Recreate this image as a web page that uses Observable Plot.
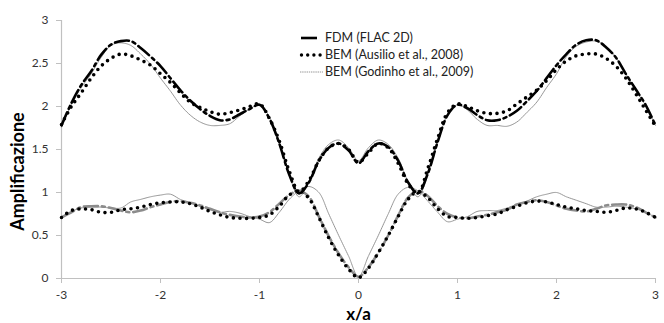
<!DOCTYPE html>
<html><head><meta charset="utf-8">
<script src="https://cdn.jsdelivr.net/npm/d3@7"></script>
<script src="https://cdn.jsdelivr.net/npm/@observablehq/plot@0.6"></script>
<style>
html,body{margin:0;padding:0;background:#fff;}
#wrap{position:relative;width:664px;height:323px;font-family:Lato,"Liberation Sans",sans-serif;}
#legend{position:absolute;left:299px;top:29px;font-size:12.5px;color:#222;line-height:17px;}
#legend div{display:flex;align-items:center;height:17px;}
#legend svg{margin-right:2px;}
</style></head>
<body><div id="wrap"><div id="legend"></div></div>
<script>
const xs = [-3.0,-2.9,-2.8,-2.7,-2.6,-2.5,-2.4,-2.3,-2.2,-2.1,-2.0,-1.9,-1.8,-1.7,-1.6,-1.5,-1.4,-1.3,-1.2,-1.1,-1.0,-0.9,-0.8,-0.7,-0.6,-0.5,-0.4,-0.3,-0.2,-0.1,0.0,0.1,0.2,0.3,0.4,0.5,0.6,0.7,0.8,0.9,1.0,1.1,1.2,1.3,1.4,1.5,1.6,1.7,1.8,1.9,2.0,2.1,2.2,2.3,2.4,2.5,2.6,2.7,2.8,2.9,3.0];

// Upper group (black)
const fdmH = [1.78,2.04,2.25,2.41,2.60,2.72,2.76,2.76,2.68,2.58,2.47,2.33,2.19,2.07,1.97,1.89,1.84,1.85,1.91,1.97,2.02,1.86,1.57,1.21,0.99,1.12,1.37,1.52,1.57,1.49,1.34,1.48,1.57,1.53,1.37,1.12,0.99,1.22,1.59,1.90,2.02,1.98,1.90,1.84,1.84,1.88,1.95,2.06,2.18,2.33,2.48,2.61,2.72,2.77,2.77,2.69,2.57,2.38,2.20,2.02,1.78];
const ausH = [1.79,2.00,2.16,2.33,2.47,2.56,2.61,2.59,2.54,2.48,2.38,2.28,2.16,2.05,1.99,1.94,1.91,1.93,1.96,2.00,2.03,1.86,1.60,1.25,1.01,1.14,1.37,1.52,1.57,1.50,1.35,1.46,1.57,1.52,1.34,1.10,0.99,1.28,1.63,1.93,2.03,2.00,1.95,1.92,1.92,1.95,2.03,2.11,2.19,2.30,2.43,2.53,2.59,2.61,2.61,2.56,2.47,2.33,2.15,1.96,1.77];
const godH = [1.76,2.02,2.22,2.38,2.57,2.71,2.74,2.71,2.61,2.49,2.33,2.18,2.02,1.90,1.82,1.78,1.78,1.80,1.89,1.97,2.02,1.88,1.56,1.20,0.95,1.13,1.40,1.56,1.61,1.52,1.37,1.52,1.61,1.56,1.40,1.13,0.95,1.20,1.58,1.90,2.02,1.96,1.85,1.78,1.78,1.77,1.82,1.93,2.05,2.22,2.38,2.58,2.70,2.75,2.76,2.70,2.57,2.38,2.19,2.01,1.78];

// Lower group
const fdmV = [0.71,0.77,0.83,0.84,0.84,0.82,0.79,0.77,0.79,0.83,0.86,0.89,0.90,0.88,0.85,0.81,0.77,0.74,0.72,0.71,0.72,0.77,0.87,0.97,1.02,0.95,0.72,0.49,0.29,0.13,0.02,0.13,0.30,0.50,0.73,0.94,1.02,0.96,0.84,0.75,0.71,0.70,0.72,0.74,0.77,0.80,0.86,0.89,0.91,0.89,0.85,0.81,0.79,0.78,0.81,0.85,0.86,0.86,0.83,0.77,0.71];
const ausV = [0.71,0.79,0.81,0.80,0.77,0.77,0.80,0.81,0.83,0.86,0.88,0.89,0.89,0.87,0.83,0.78,0.74,0.71,0.70,0.70,0.71,0.74,0.84,0.97,1.02,0.93,0.71,0.47,0.27,0.11,0.01,0.12,0.30,0.50,0.72,0.92,1.01,0.94,0.81,0.72,0.71,0.70,0.71,0.73,0.75,0.80,0.84,0.88,0.90,0.89,0.86,0.83,0.81,0.79,0.78,0.77,0.79,0.82,0.81,0.77,0.71];
const godV = [0.72,0.78,0.82,0.83,0.83,0.82,0.82,0.89,0.92,0.95,0.97,0.98,0.92,0.88,0.84,0.80,0.77,0.78,0.76,0.72,0.69,0.65,0.77,0.92,1.02,1.07,1.00,0.75,0.50,0.26,0.02,0.26,0.50,0.75,0.98,1.06,1.02,0.90,0.77,0.66,0.69,0.72,0.78,0.79,0.79,0.82,0.86,0.90,0.95,0.98,1.00,0.95,0.91,0.87,0.83,0.83,0.84,0.83,0.81,0.77,0.71];

const xTicks = [-3,-2,-1,0,1,2,3];
const yTicks = [0,0.5,1,1.5,2,2.5,3];
const legendLabels = ["FDM (FLAC 2D)","BEM (Ausilio et al., 2008)","BEM (Godinho et al., 2009)"];

const rows = arr => xs.map((x,i)=>({x, y: arr[i]}));

const ausStyle = {stroke: "#000", strokeWidth: 3.6, strokeDasharray: "0 6.6", strokeLinecap: "round"};
const godStyle = {stroke: "#8a8a8a", strokeWidth: 0.9, strokeDasharray: "1.4 0.8"};

const chart = Plot.plot({
  width: 664, height: 323,
  marginLeft: 61, marginRight: 9, marginTop: 20, marginBottom: 45,
  style: {fontFamily: "Lato, 'Liberation Sans', sans-serif", fontSize: "12px", color: "#333", background: "#fff"},
  x: {domain: [-3,3]},
  y: {domain: [0,3]},
  marks: [
    Plot.ruleX([-3], {stroke: "#c0c0c0", strokeWidth: 1.2}),
    Plot.ruleY([0], {stroke: "#c0c0c0", strokeWidth: 1.2}),
    Plot.axisX({ticks: xTicks, tickSize: 5, tickPadding: 7, stroke: "#c0c0c0", label: null, tickFormat: d=>String(d), fill: "#333"}),
    Plot.axisY({ticks: yTicks, tickSize: 5, tickPadding: 8, stroke: "#c0c0c0", label: null, tickFormat: d=>String(d), fill: "#333"}),
    Plot.line(rows(godV), {x:"x", y:"y", curve:"catmull-rom", ...godStyle}),
    Plot.line(rows(fdmV), {x:"x", y:"y", curve:"catmull-rom", stroke:"#8c8c8c", strokeWidth: 2.6, strokeDasharray: "14 4 3 4"}),
    Plot.line(rows(ausV), {x:"x", y:"y", curve:"catmull-rom", ...ausStyle}),
    Plot.line(rows(godH), {x:"x", y:"y", curve:"catmull-rom", ...godStyle}),
    Plot.line(rows(fdmH), {x:"x", y:"y", curve:"catmull-rom", stroke:"#000", strokeWidth: 2.6, strokeDasharray: "14 4 3 4"}),
    Plot.line(rows(ausH), {x:"x", y:"y", curve:"catmull-rom", ...ausStyle}),
    Plot.text(["Amplificazione"], {frameAnchor: "left", dx: -43, dy: 22, rotate: -90, textAnchor: "middle", lineAnchor: "middle", fontSize: 18, fontWeight: "bold", fill: "#000"}),
    Plot.text(["x/a"], {frameAnchor: "bottom", dy: 36, textAnchor: "middle", lineAnchor: "middle", fontSize: 17, fontWeight: "bold", fill: "#000"})
  ]
});
document.getElementById("wrap").appendChild(chart);

const swatches = [
  `<svg width="24" height="10"><line x1="2" x2="18" y1="5" y2="5" stroke="#000" stroke-width="2.6"/></svg>`,
  `<svg width="24" height="10"><line x1="2.5" x2="23" y1="5" y2="5" stroke="#000" stroke-width="3.4" stroke-dasharray="0,6.2" stroke-linecap="round"/></svg>`,
  `<svg width="24" height="10"><line x1="1" x2="24" y1="5" y2="5" stroke="#8a8a8a" stroke-width="0.9" stroke-dasharray="1.4,0.8"/></svg>`
];
document.getElementById("legend").innerHTML = legendLabels.map((l,i)=>`<div>${swatches[i]}<span>${l}</span></div>`).join("");
</script>
</body></html>
